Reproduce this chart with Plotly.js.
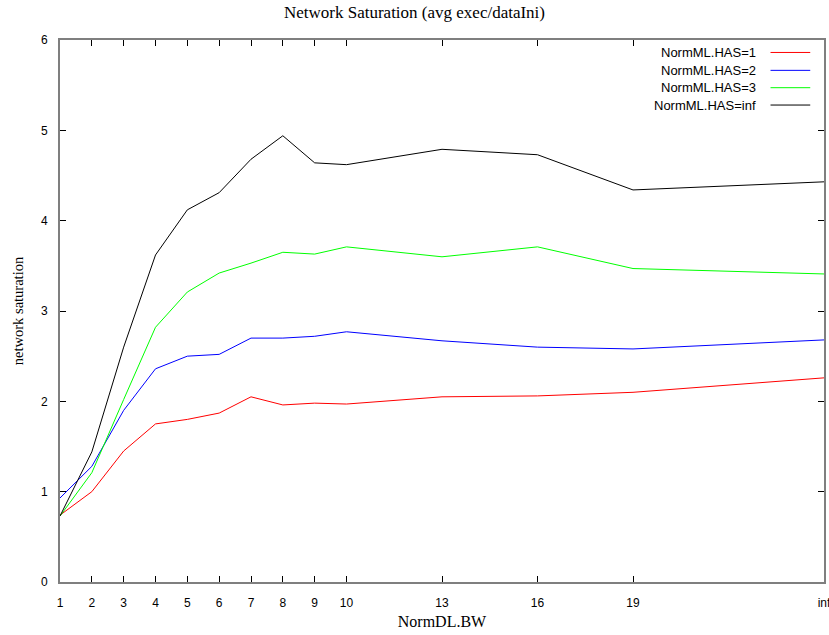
<!DOCTYPE html>
<html>
<head>
<meta charset="utf-8">
<script src="https://cdn.plot.ly/plotly-3.0.1.min.js"></script>
<style>html,body{margin:0;padding:0;background:#fff;}#chart{width:829px;height:635px;}</style>
</head>
<body>
<div id="chart"></div>
<script>
// x positions (inf plotted at 25)
const xVals = [1, 2, 3, 4, 5, 6, 7, 8, 9, 10, 13, 16, 19, 25];
const tickVals = [1, 2, 3, 4, 5, 6, 7, 8, 9, 10, 13, 16, 19, 25];
const tickText = ['1', '2', '3', '4', '5', '6', '7', '8', '9', '10', '13', '16', '19', 'inf'];

const has1 = [0.74, 1.00, 1.45, 1.75, 1.80, 1.87, 2.05, 1.96, 1.98, 1.97, 2.05, 2.06, 2.10, 2.26];
const has2 = [0.93, 1.28, 1.90, 2.36, 2.50, 2.52, 2.70, 2.70, 2.72, 2.77, 2.67, 2.60, 2.58, 2.68];
const has3 = [0.73, 1.21, 2.02, 2.82, 3.21, 3.42, 3.53, 3.65, 3.63, 3.71, 3.60, 3.71, 3.47, 3.41];
const hasInf = [0.73, 1.44, 2.60, 3.62, 4.12, 4.31, 4.68, 4.94, 4.64, 4.62, 4.79, 4.73, 4.34, 4.43];

const seriesNames = ['NormML.HAS=1', 'NormML.HAS=2', 'NormML.HAS=3', 'NormML.HAS=inf'];
const seriesColors = ['#ff0000', '#0000ff', '#00ff00', '#000000'];
const seriesData = [has1, has2, has3, hasInf];

const traces = seriesData.map((ys, i) => ({
  x: xVals, y: ys, type: 'scatter', mode: 'lines', name: seriesNames[i],
  line: {color: seriesColors[i], width: 1}, showlegend: false
}));

// custom legend (text left of line sample, as in reference)
const legY = [0.977, 0.944, 0.912, 0.880];
const annotations = seriesNames.map((n, i) => ({
  xref: 'paper', yref: 'paper', x: 0.913, y: legY[i], xanchor: 'right', yanchor: 'middle',
  text: n, showarrow: false, font: {family: 'Liberation Sans, Arial, sans-serif', size: 13, color: '#000'}
}));
const shapes = seriesNames.map((n, i) => ({
  type: 'line', xref: 'paper', yref: 'paper', x0: 0.930, x1: 0.982, y0: legY[i], y1: legY[i],
  line: {color: seriesColors[i], width: 1}
}));

const layout = {
  width: 829, height: 635,
  margin: {l: 60, r: 5, t: 40, b: 53},
  paper_bgcolor: '#fff', plot_bgcolor: '#fff',
  title: {text: 'Network Saturation (avg exec/dataIni)', x: 0.5, xanchor: 'center', y: 0.981, yanchor: 'middle',
          font: {family: 'Liberation Serif, Times New Roman, serif', size: 17, color: '#000'}},
  xaxis: {
    range: [1, 25], tickmode: 'array', tickvals: tickVals, ticktext: tickText,
    ticks: 'inside', ticklen: 6, tickcolor: '#000', mirror: 'ticks',
    showline: true, linecolor: '#7f7f7f', linewidth: 2, showgrid: false, zeroline: false,
    ticklabelstandoff: 9, ticklabeloverflow: 'allow',
    tickfont: {family: 'Liberation Sans, Arial, sans-serif', size: 12, color: '#000'},
    title: {text: 'NormDL.BW', standoff: 6, font: {family: 'Liberation Serif, Times New Roman, serif', size: 16, color: '#000'}}
  },
  yaxis: {
    range: [0, 6], dtick: 1, tick0: 0,
    ticks: 'inside', ticklen: 6, tickcolor: '#000', mirror: 'ticks',
    showline: true, linecolor: '#7f7f7f', linewidth: 2, showgrid: false, zeroline: false,
    ticklabelstandoff: 8,
    tickfont: {family: 'Liberation Sans, Arial, sans-serif', size: 12, color: '#000'},
    title: {text: 'network saturation', standoff: 14, font: {family: 'Liberation Serif, Times New Roman, serif', size: 14.5, color: '#000'}}
  },
  annotations: annotations,
  shapes: shapes
};

Plotly.newPlot('chart', traces, layout, {displayModeBar: false, staticPlot: true});
</script>
</body>
</html>
